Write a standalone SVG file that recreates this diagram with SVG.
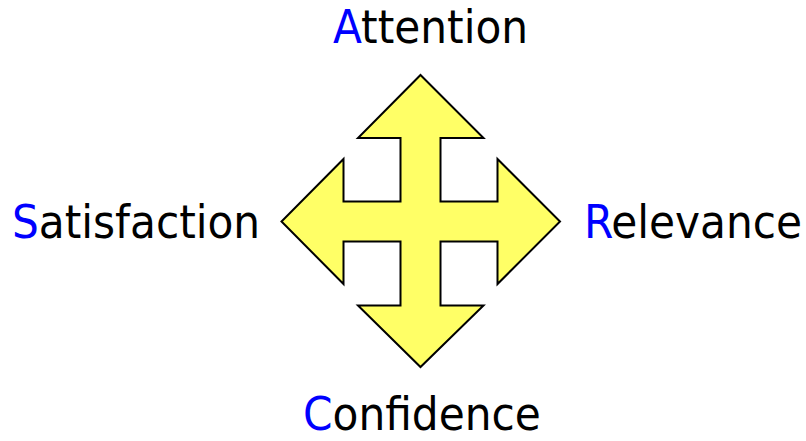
<svg xmlns="http://www.w3.org/2000/svg" width="806" height="441" viewBox="0 0 806 441">
<style>
text{font-family:"DejaVu Sans Condensed","DejaVu Sans",sans-serif;font-stretch:condensed;font-size:47px;fill:#000}
.k{fill:#0000ff}
.arrow{fill:#ffff66;stroke:#000;stroke-width:2;stroke-linejoin:miter}
</style>
<rect width="806" height="441" fill="#fff"/>
<g id="cross">
<path class="arrow" d="M420.5,75 L483.5,138 L440.5,138 L440.5,201.5 L497.5,201.5 L497.5,159 L560,221.5 L497.5,284 L497.5,241.5 L440.5,241.5 L440.5,305.5 L483.5,305.5 L420.5,367 L358,305.5 L400.5,305.5 L400.5,241.5 L343.5,241.5 L343.5,284 L281.5,221.5 L343.5,159 L343.5,201.5 L400.5,201.5 L400.5,138 L358,138 Z"/>
</g>
<g id="attention"><text x="333" y="43"><tspan class="k">A</tspan>ttention</text></g>
<g id="satisfaction"><text x="12" y="238"><tspan class="k">S</tspan>atisfaction</text></g>
<g id="relevance"><text x="584" y="238"><tspan class="k">R</tspan>elevance</text></g>
<g id="confidence"><text x="303" y="430"><tspan class="k">C</tspan>onfidence</text></g>
</svg>
